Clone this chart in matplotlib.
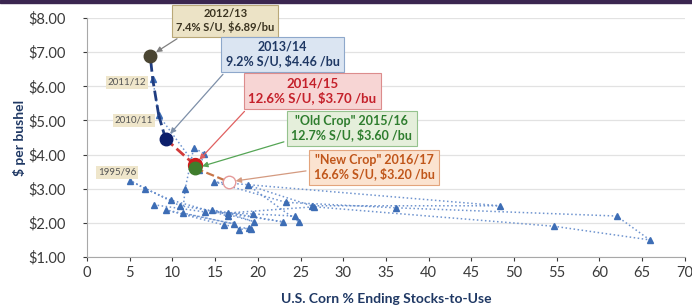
import matplotlib.pyplot as plt
from matplotlib.patches import Rectangle

plt.rcParams['font.family'] = ['Lato', 'DejaVu Sans']

# Historical marketing years: % stocks-to-use, $/bu
hist_su = [7.8, 13.8, 19.4, 24.3, 24.8, 18.9, 26.3, 48.4, 14.9, 23.3,
           36.2, 62.0, 65.9, 54.7, 26.6, 16.5, 19.6, 14.6, 22.9, 10.9,
           5.0, 6.8, 9.8, 16.5, 17.8, 19.0, 19.2, 16.0, 9.2, 17.2,
           11.2, 11.5, 12.5, 13.7, 13.1, 8.4, 7.7]
hist_price = [2.53, 2.32, 2.26, 2.20, 2.03, 3.10, 2.50, 2.50, 3.20, 2.60,
              2.44, 2.20, 1.50, 1.90, 2.47, 2.29, 2.03, 2.38, 2.03, 2.50,
              3.24, 3.00, 2.67, 2.20, 1.80, 1.85, 1.82, 1.94, 2.38, 1.97,
              2.29, 3.00, 4.20, 4.03, 3.55, 5.15, 6.20]

# Highlighted years
hl_su = [7.4, 9.2, 12.6, 12.7, 16.6]
hl_price = [6.89, 4.46, 3.70, 3.60, 3.20]
hl_title = ['2012/13', '2013/14', '2014/15', '"Old Crop" 2015/16', '"New Crop" 2016/17']
hl_text = ['7.4% S/U, $6.89/bu', '9.2% S/U, $4.46 /bu', '12.6% S/U, $3.70 /bu',
           '12.7% S/U, $3.60 /bu', '16.6% S/U, $3.20 /bu']

fig = plt.figure(figsize=(6.92, 3.08), dpi=100)
ax = fig.add_axes([0.1257, 0.1656, 0.864, 0.776])

# thin slide header strip
fig.patches.append(Rectangle((0, 0.99), 1, 0.01, transform=fig.transFigure,
                             color='#3b2650', zorder=0))

ax.plot(hist_su, hist_price, ':', color='#6f94cf', lw=1.1, zorder=2)
ax.plot(hist_su, hist_price, '^', color='#3d6db5', ms=5, ls='none', zorder=3)

# recent years
navy = '#1f3c80'
ax.plot([hist_su[-2], hist_su[-1], hl_su[0]], [hist_price[-2], hist_price[-1], hl_price[0]],
        '--', color=navy, lw=2, zorder=3)
ax.plot([hist_su[-2], hl_su[1]], [hist_price[-2], hl_price[1]], '--', color=navy, lw=2, zorder=3)
ax.plot(hl_su[1:3], hl_price[1:3], '--', color='#d23a3a', lw=2, zorder=3)
ax.plot(hl_su[3:5], hl_price[3:5], '--', color='#c8764a', lw=1.6, zorder=3)

ax.plot(hl_su[0], hl_price[0], 'o', color='#4a4532', ms=9, zorder=5)
ax.plot(hl_su[1], hl_price[1], 'o', color='#0d1f6b', ms=9, zorder=5)
ax.plot(hl_su[2], hl_price[2], 'o', color='#cc1d1d', ms=10, zorder=5)
ax.plot(hl_su[3], hl_price[3], 'o', color='#3f7d2c', ms=9, zorder=6)
ax.plot(hl_su[4], hl_price[4], 'o', mfc='white', mec='#e59a9a', ms=9, zorder=5)

ax.set_xlim(0, 70)
ax.set_ylim(1, 8)
ax.set_xticks(range(0, 71, 5))
ax.set_yticks(range(1, 9))
ax.set_yticklabels([f'${v}.00' for v in range(1, 9)])
ax.tick_params(labelsize=10.5, colors='#3a3a3a', length=3, width=0.8)
ax.tick_params(axis='y', pad=12)
ax.grid(axis='y', color='#e2e2e2', lw=0.9)
ax.set_axisbelow(True)
for s in ['top', 'right']:
    ax.spines[s].set_visible(False)
for s in ['left', 'bottom']:
    ax.spines[s].set_color('#a8a8a8')
ax.set_xlabel('U.S. Corn % Ending Stocks-to-Use', fontsize=10, fontweight='bold',
              color='#1f3864', labelpad=9)
ax.set_ylabel('$ per bushel', fontsize=10, fontweight='bold', color='#1f3864', labelpad=2)

# callout styling: box centre, font size, fill, edge, text colour, arrow colour, arrow start
styles = [
    ((16.2, 7.92), 8, '#ece3c6', '#b9a878', '#3a3320', '#808080', (0.1, 0.0)),
    ((22.9, 6.94), 9, '#dbe5f2', '#8ea8cb', '#1f3864', '#7d8fa8', (0.03, 0.0)),
    ((26.4, 5.86), 9.5, '#f7d5d4', '#dc8c8c', '#c4202a', '#e06060', (0.04, 0.1)),
    ((31.0, 4.77), 9, '#e5efdb', '#95c28e', '#2e7d2e', '#55a555', (0.02, 0.1)),
    ((33.6, 3.63), 9, '#fbe3d0', '#e3a47c', '#c0561a', '#d49a80', (0.0, 0.4)),
]
for t1, t2, sx, sy, st in zip(hl_title, hl_text, hl_su, hl_price, styles):
    (bx, by), fs, fc, ec, tc, acol, rp = st
    ax.annotate(t1 + '\n' + t2, xy=(sx, sy), xytext=(bx, by),
                ha='center', va='center', fontsize=fs, fontweight='bold', color=tc,
                linespacing=1.15, annotation_clip=False,
                bbox=dict(boxstyle='square,pad=0.35', fc=fc, ec=ec, lw=0.8),
                arrowprops=dict(arrowstyle='-|>', color=acol, lw=0.9, mutation_scale=8,
                                relpos=rp, shrinkB=5),
                zorder=7)

for lab, x, y in [('2011/12', 4.7, 6.12), ('2010/11', 5.5, 5.0), ('1995/96', 3.5, 3.48)]:
    ax.text(x, y, lab, ha='center', va='center', fontsize=7, color='#555555',
            bbox=dict(boxstyle='square,pad=0.2', fc='#efe6cb', ec='none'), zorder=7)

fig.savefig('out.png', dpi=100)
